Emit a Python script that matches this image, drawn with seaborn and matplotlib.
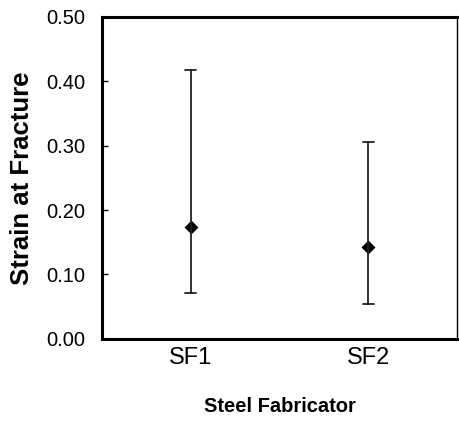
import matplotlib
matplotlib.use("Agg")
import matplotlib.pyplot as plt
import seaborn as sns
import pandas as pd
import numpy as np

categories = ["SF1", "SF2"]
lower = [0.071, 0.054]
center = [0.173, 0.143]
upper = [0.418, 0.306]
yticks = [0.0, 0.1, 0.2, 0.3, 0.4, 0.5]

sns.set_theme(style="white")
plt.rcParams['font.family'] = ['Liberation Sans', 'DejaVu Sans']
plt.rcParams['text.color'] = 'black'
plt.rcParams['axes.labelcolor'] = 'black'
plt.rcParams['xtick.color'] = 'black'
plt.rcParams['ytick.color'] = 'black'

rows = []
for c, lo, ce, up in zip(categories, lower, center, upper):
    for v in (lo, ce, up):
        rows.append({"fab": c, "strain": v})
df = pd.DataFrame(rows)

fig = plt.figure(figsize=(4.59, 4.21), dpi=100)
ax = fig.add_axes([0.222, 0.195, 0.7736, 0.765])

sns.pointplot(data=df, x="fab", y="strain", order=categories,
              estimator=np.median, errorbar=lambda x: (x.min(), x.max()),
              linestyle="none", markers="D", color="black",
              markersize=5, err_kws={"linewidth": 1.3, "color": "#222222"},
              capsize=0.06, ax=ax)

ax.set_xlim(-0.5, 1.5)
ax.set_ylim(0, 0.5)
ax.set_yticks(yticks)
ax.set_yticklabels([f"{t:.2f}" for t in yticks], fontsize=14.5)
ax.set_xticks(range(len(categories)))
ax.set_xticklabels(categories, fontsize=17)
ax.tick_params(axis="y", direction="in", length=4, width=1, color="black", pad=12, left=True)
ax.tick_params(axis="x", direction="in", length=0, pad=6)

ax.set_ylabel("Strain at Fracture", fontsize=18.5, fontweight="bold", labelpad=9)
ax.set_xlabel("Steel Fabricator", fontsize=14.5, fontweight="bold", labelpad=20)

for s in ["top", "left", "bottom"]:
    ax.spines[s].set_linewidth(2.2)
    ax.spines[s].set_color("black")
ax.spines["right"].set_linewidth(1.0)
ax.spines["right"].set_color("black")
ax.grid(False)

fig.savefig("out.png", dpi=100)
